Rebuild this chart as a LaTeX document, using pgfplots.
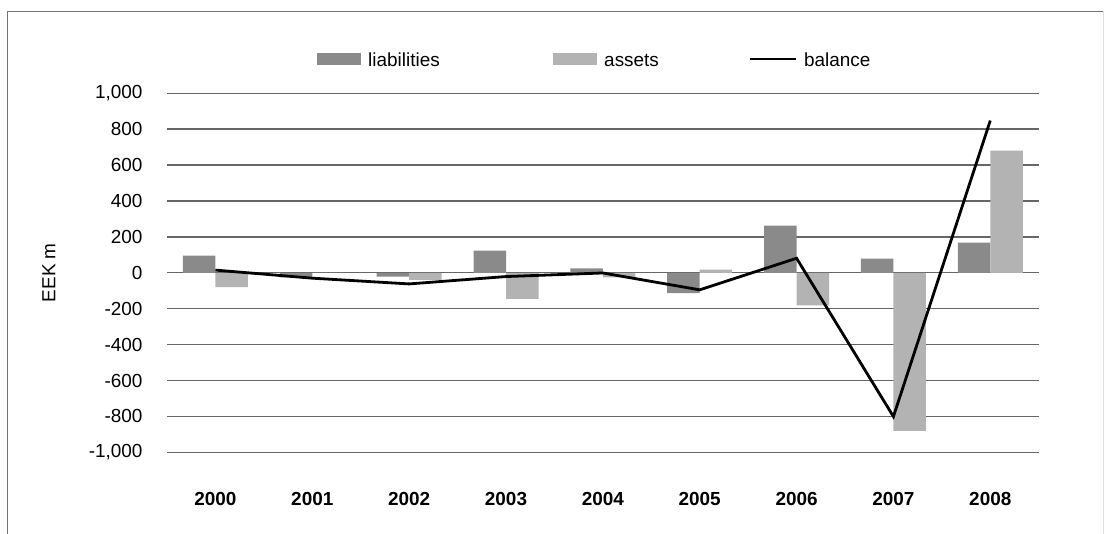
\documentclass[border=0pt]{standalone}
\usepackage{fontspec}
\setmainfont{Liberation Sans}
\usepackage{pgfplots}
\pgfplotsset{compat=1.18}
\definecolor{liabcol}{RGB}{138,138,139}
\definecolor{assetcol}{RGB}{179,179,180}
\newcommand{\chartfont}{\fontsize{19}{23}\selectfont}
\begin{document}
\begin{tikzpicture}[x=1bp,y=1bp]
\useasboundingbox (0,0) rectangle (1104,534);
% outer frame
\draw[black!55, line width=1.3bp] (7.5,-2) -- (7.5,522.5) -- (1103,522.5);
\draw[black!12, line width=1bp] (1103,522.5) -- (1103,-2);
\begin{axis}[
  at={(167bp,81.7bp)}, anchor=south west,
  scale only axis, width=871.7bp, height=359bp,
  xmin=-0.5, xmax=8.5, ymin=-1000, ymax=1000,
  axis line style={draw=none}, major tick style={draw=none},
  ymajorgrids, grid style={black!60, line width=1.4bp},
  xtick={0,...,8},
  xticklabels={2000,2001,2002,2003,2004,2005,2006,2007,2008},
  ytick={-1000,-800,...,1000},
  yticklabels={{-1,000},-800,-600,-400,-200,0,200,400,600,800,{1,000}},
  font=\chartfont,
  tick label style={font=\chartfont},
  xticklabel style={font=\chartfont\bfseries, yshift=-36bp},
  yticklabel style={xshift=-21bp},
  ylabel={EEK m},
  ylabel style={at={(axis description cs:-0.1354,0.5)}, anchor=center},
  legend columns=3,
  legend style={at={(0.1721,1.0955)}, anchor=west, draw=none, fill=none,
    inner sep=0pt, column sep=7bp, cells={anchor=west},
    nodes={inner sep=0pt}, font=\chartfont},
]
\addplot[ybar, bar width=32.5bp, bar shift=-16.25bp, fill=liabcol, draw=none,
  legend image code/.code={\fill[liabcol] (0bp,-6bp) rectangle (44bp,6bp);}]
  coordinates {(0,95) (1,-25) (2,-22) (3,124) (4,24) (5,-113) (6,263) (7,79) (8,168)};
\addlegendentry{\makebox[178bp][l]{\strut liabilities}}
\addplot[ybar, bar width=32.5bp, bar shift=16.25bp, fill=assetcol, draw=none,
  legend image code/.code={\fill[assetcol] (0bp,-6bp) rectangle (44bp,6bp);}]
  coordinates {(0,-80) (1,0) (2,-40) (3,-145) (4,-25) (5,18) (6,-182) (7,-880) (8,680)};
\addlegendentry{\makebox[137bp][l]{\strut assets}}
\addplot[sharp plot, black, line width=2.8bp, line join=miter,
  legend image code/.code={\draw[black, line width=2.8bp] (0bp,0bp) -- (46bp,0bp);}]
  coordinates {(0,15) (1,-30) (2,-62) (3,-21) (4,-1) (5,-95) (6,81) (7,-801) (8,848)};
\addlegendentry{\strut balance}
\end{axis}
\end{tikzpicture}
\end{document}
